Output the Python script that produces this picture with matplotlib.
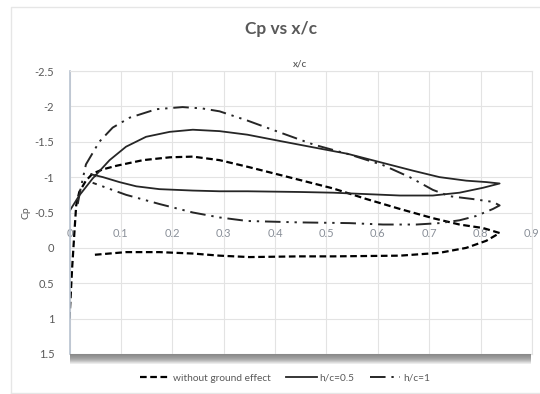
#!/usr/bin/env python

import matplotlib.pyplot as plt
from matplotlib.patches import Rectangle
from matplotlib.lines import Line2D

plt.rcParams['font.family'] = ['Lato', 'DejaVu Sans']

# without ground effect: leading edge -> upper surface -> trailing edge -> lower surface
x_free = [0.0, 0.005, 0.010, 0.013, 0.019, 0.032, 0.045, 0.065, 0.091, 0.143, 0.195,
          0.24, 0.292, 0.35, 0.41, 0.448, 0.513, 0.578, 0.643, 0.707, 0.759, 0.805,
          0.837, 0.811, 0.772, 0.72, 0.643, 0.513, 0.448, 0.35, 0.292, 0.24, 0.175,
          0.11, 0.045]
cp_free = [1.0, 0.3, -0.27, -0.6, -0.79, -0.95, -1.05, -1.11, -1.16, -1.24, -1.28,
           -1.29, -1.24, -1.14, -1.03, -0.96, -0.84, -0.69, -0.55, -0.42, -0.33, -0.28,
           -0.21, -0.10, 0.0, 0.07, 0.11, 0.12, 0.12, 0.13, 0.11, 0.08, 0.06,
           0.06, 0.10]

# h/c = 0.5
x_h05 = [0.0, 0.019, 0.045, 0.078, 0.11, 0.149, 0.195, 0.24, 0.292, 0.346, 0.41,
         0.475, 0.541, 0.605, 0.669, 0.72, 0.772, 0.811, 0.837, 0.805, 0.759, 0.707,
         0.643, 0.578, 0.513, 0.448, 0.346, 0.292, 0.24, 0.175, 0.13, 0.097, 0.065,
         0.042]
cp_h05 = [-0.52, -0.74, -0.98, -1.24, -1.43, -1.57, -1.64, -1.67, -1.65, -1.60, -1.51,
          -1.42, -1.33, -1.21, -1.09, -1.0, -0.95, -0.93, -0.91, -0.85, -0.78, -0.74,
          -0.74, -0.76, -0.78, -0.79, -0.80, -0.80, -0.81, -0.83, -0.87, -0.93, -1.0,
          -1.04]

# h/c = 1
x_h1 = [0.016, 0.022, 0.032, 0.058, 0.084, 0.117, 0.169, 0.22, 0.259, 0.292, 0.346,
        0.41, 0.475, 0.545, 0.61, 0.662, 0.707, 0.74, 0.785, 0.824, 0.837, 0.824,
        0.791, 0.759, 0.72, 0.675, 0.61, 0.545, 0.448, 0.346, 0.292, 0.24, 0.175,
        0.11, 0.045]
cp_h1 = [-0.62, -0.85, -1.18, -1.50, -1.70, -1.84, -1.96, -1.99, -1.97, -1.93, -1.80,
         -1.63, -1.46, -1.32, -1.17, -1.0, -0.82, -0.73, -0.69, -0.65, -0.60, -0.55,
         -0.45, -0.39, -0.35, -0.33, -0.33, -0.35, -0.36, -0.38, -0.43, -0.50, -0.62,
         -0.75, -0.92]

x_ticks = [0, 0.1, 0.2, 0.3, 0.4, 0.5, 0.6, 0.7, 0.8, 0.9]
y_ticks = [-2.5, -2, -1.5, -1, -0.5, 0, 0.5, 1, 1.5]

W, H = 540, 394
grey_text = '#595959'

fig = plt.figure(figsize=(W / 100, H / 100), dpi=100)
ax = fig.add_axes([69.5 / W, 1 - 354 / H, (532 - 69.5) / W, (354 - 71) / H])

ax.plot(x_free, cp_free, color='black', lw=1.6, linestyle=(0, (3, 1.6)),
        label='without ground effect')
ax.plot(x_h05, cp_h05, color='#262626', lw=1.3, label='h/c=0.5')
ax.plot(x_h1, cp_h1, color='#262626', lw=1.4,
        linestyle=(0, (8, 3, 1.2, 3, 1.2, 3)), label='h/c=1')

ax.set_xlim(0, 0.9)
ax.set_ylim(1.5, -2.5)
ax.set_xticks(x_ticks)
ax.set_yticks(y_ticks)
ax.set_yticklabels([f'{v:g}' for v in y_ticks])
ax.tick_params(axis='both', length=0, labelsize=8, labelcolor=grey_text)
ax.tick_params(axis='y', pad=11)
ax.set_xticklabels([])
for xv in x_ticks:
    ax.text(xv, -0.2, f'{xv:g}', ha='center', va='center', fontsize=8,
            color='#8a9099', zorder=1)

ax.grid(True, color='#e3e3e3', lw=0.8)
ax.set_axisbelow(True)
for side in ['top', 'right', 'bottom']:
    ax.spines[side].set_color('#e3e3e3')
    ax.spines[side].set_linewidth(0.8)
ax.spines['left'].set_color('#b8c2cf')
ax.spines['left'].set_linewidth(1.2)

ax.set_ylabel('Cp', fontsize=7.5, color=grey_text, labelpad=3)

# shadow under the plot area, darker at the top
shades = ['#8a8a8a', '#8f8f8f', '#959595', '#9b9b9b', '#a3a3a3', '#adadad', '#bababa',
          '#cacaca', '#dcdcdc', '#ececec']
for k, c in enumerate(shades):
    fig.patches.append(Rectangle((70 / W, 1 - (355 + k) / H), (531 - 70) / W, 1 / H,
                                 transform=fig.transFigure, color=c, lw=0, zorder=0))
# chart border
fig.add_artist(Line2D([11 / W, 11 / W, 1.0], [1 - 393 / H, 1 - 7 / H, 1 - 7 / H],
                      color='#e6e6e6', lw=1))
fig.add_artist(Line2D([11 / W, 1.0], [1 - 393 / H, 1 - 393 / H], color='#e6e6e6', lw=1))

fig.text(281 / W, 1 - 29 / H, 'Cp vs x/c', ha='center', va='center', fontsize=12.5,
         fontweight='bold', color=grey_text)
fig.text(300 / W, 1 - 64 / H, 'x/c', ha='center', va='center', fontsize=7,
         fontweight='semibold', color=grey_text)

fig.legend(loc='center', bbox_to_anchor=(285 / W, 1 - 378 / H), ncol=3, frameon=False,
           fontsize=7.3, handlelength=3.0, columnspacing=1.5, handletextpad=0.3,
           labelcolor=grey_text)

fig.savefig('out.png', dpi=100)
